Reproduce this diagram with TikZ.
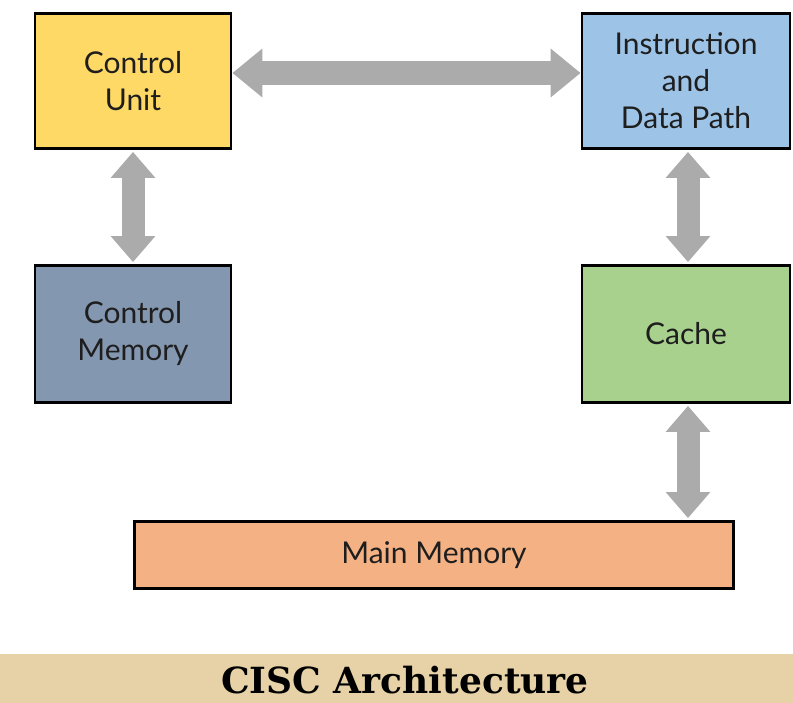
\documentclass[tikz,border=0pt]{standalone}
\usepackage{fontspec}
\setmainfont{Lato}
\newfontfamily\titlefont{DejaVu Serif}
\usetikzlibrary{arrows.meta, positioning, calc}

\definecolor{cuyellow}{HTML}{FFD966}
\definecolor{idpblue}{HTML}{9DC3E6}
\definecolor{cmslate}{HTML}{8497B0}
\definecolor{cachegreen}{HTML}{A9D18E}
\definecolor{mmorange}{HTML}{F4B183}
\definecolor{arrowgray}{HTML}{ABABAB}
\definecolor{bannertan}{HTML}{E6D2A6}
\definecolor{textdark}{HTML}{1E1E1E}

\begin{document}
\begin{tikzpicture}[
  x=1pt, y=-1pt,
  every node/.style={font=\fontsize{30}{37}\selectfont, text=textdark},
  box/.style={rectangle, draw=black, line width=2.8pt, align=center, inner sep=0pt},
  cubox/.style={box, fill=cuyellow, minimum width=196pt, minimum height=135pt},
  idpbox/.style={box, fill=idpblue, minimum width=208pt, minimum height=135pt},
  cmbox/.style={box, fill=cmslate, minimum width=196pt, minimum height=137pt},
  cachebox/.style={box, fill=cachegreen, minimum width=208pt, minimum height=137pt},
  mmbox/.style={box, fill=mmorange, minimum width=599pt, minimum height=67pt},
  harr/.style={draw=arrowgray, line width=24pt, {Triangle[length=30pt, width=47pt]}-{Triangle[length=30pt, width=47pt]}},
  varr/.style={draw=arrowgray, line width=23pt, {Triangle[length=26pt, width=43pt]}-{Triangle[length=26pt, width=43pt]}, shorten <=2pt, shorten >=2pt},
]
\useasboundingbox (0,0) rectangle (793,703);

%% Banner
\fill[bannertan] (0,654) rectangle (793,703);
\node[font=\titlefont\bfseries\fontsize{36}{40}\selectfont, text=black, anchor=base] (title) at (405,693) {CISC Architecture};

%% Row 1
\node[cubox]  (cu)  at (133,81) {Control\\Unit};
\node[idpbox] (idp) at (686,81) {Instruction\\and\\Data Path};

%% Row 2
\node[cmbox]    (cm)    at (133,334) {Control\\Memory};
\node[cachebox] (cache) at (686,334) {Cache};

%% Row 3
\node[mmbox] (mm) at (434,555) {Main Memory};

%% Arrows
\draw[harr] ([yshift=8pt]cu.east) -- ([yshift=8pt]idp.west);
\draw[varr] (cu.south)    -- (cm.north);
\draw[varr] ([xshift=2pt]idp.south) -- ([xshift=2pt]cache.north);
\draw[varr] ([xshift=2pt]cache.south) -- ([xshift=2pt]cache.south |- mm.north);

\end{tikzpicture}
\end{document}
